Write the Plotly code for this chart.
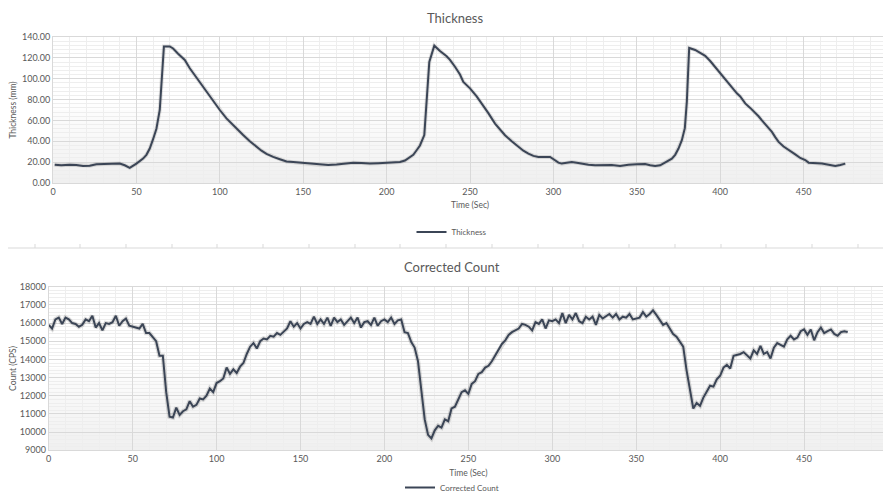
import plotly.graph_objects as go

# ---------------- data ----------------
thick_time = [1, 5, 10, 14, 18, 22, 26, 30, 35, 40, 43, 46, 50, 54, 56, 58, 60, 62, 64, 66.5,
              70, 72, 75, 77, 79, 82, 86, 90, 95, 100, 104, 108, 111, 114, 118, 122, 125, 128,
              132, 136, 140, 144, 150, 155, 160, 165, 170, 175, 180, 185, 190, 195, 200, 205,
              208, 211, 213, 216, 218, 220, 222.6, 224, 225.6, 228.6, 232, 236, 238, 241, 244,
              246, 250, 254, 257, 261, 265, 268, 271, 275, 279, 282, 285, 288, 291, 295, 298,
              301, 303, 305, 308, 311, 314, 317, 321, 325, 330, 335, 340, 345, 350, 355, 358,
              361, 364, 368, 371, 373, 375, 377, 378.8, 380, 381.4, 385, 388, 391, 394, 396,
              399, 402, 405, 408, 410, 412, 415, 418, 420, 423, 425, 428, 431, 433, 435, 438,
              441, 445, 448, 451, 453, 457, 461, 465, 469, 472, 475]
thickness = [17.6, 17.0, 17.6, 17.3, 16.2, 16.5, 18.0, 18.0, 18.0, 18.6, 17.0, 14.6, 18.6, 23.4,
             27.0, 33.0, 42.0, 52.0, 70.0, 131.0, 131.0, 129.0, 124.0, 121.0, 118.0, 110.0,
             101.0, 92.0, 81.0, 70.0, 62.0, 55.4, 50.0, 46.0, 40.0, 34.6, 31.0, 28.0, 25.0,
             22.8, 20.6, 20.2, 19.2, 18.3, 17.6, 17.3, 17.8, 18.8, 19.5, 19.2, 18.6, 19.0, 19.2,
             19.5, 20.2, 21.5, 23.4, 27.0, 31.4, 36.0, 46.0, 84.0, 116.0, 131.7, 126.5, 121.5,
             118.0, 111.5, 104.0, 97.0, 90.7, 83.0, 76.3, 67.0, 57.0, 51.0, 45.8, 40.0, 34.6,
             31.0, 28.2, 26.0, 25.0, 25.0, 25.0, 21.8, 19.5, 18.6, 19.5, 20.2, 19.5, 18.6,
             17.6, 17.0, 17.3, 17.3, 16.3, 17.6, 18.0, 18.3, 17.0, 16.3, 17.0, 20.8, 23.4, 27.0,
             33.0, 41.0, 52.6, 78.0, 129.5, 127.6, 125.0, 122.0, 117.0, 113.0, 107.0, 102.0,
             95.0, 89.0, 86.0, 83.0, 76.3, 72.0, 69.0, 64.0, 60.0, 55.0, 49.0, 44.0, 39.4, 35.0,
             31.4, 27.5, 24.0, 22.0, 19.5, 19.2, 18.6, 17.5, 16.3, 17.3, 18.6]

count_time = list(range(0, 477, 2))
corrected_count = [
    15900, 15700, 16200, 16300, 15950, 16300, 16200, 16000, 15950, 15800,
    15900, 16200, 16100, 16400, 15750, 16000, 15600, 16000, 15950, 16050,
    16400, 15850, 16100, 16250, 15850, 15800, 15750, 15700, 15950, 15450,
    15450, 15200, 15000, 14200, 14200, 12200, 10850, 10800, 11350, 10950,
    11150, 11250, 11700, 11400, 11500, 11850, 11800, 12000, 12400, 12200,
    12700, 12800, 12950, 13550, 13200, 13450, 13250, 13600, 13800, 14300,
    14700, 14900, 14600, 15000, 15150, 15100, 15300, 15250, 15450, 15350,
    15550, 15700, 16100, 15800, 16000, 15700, 15950, 16050, 15950, 16350,
    15950, 16200, 15950, 16300, 15850, 16300, 16050, 16200, 15900, 16100,
    16300, 16000, 16300, 15750, 16050, 16100, 15900, 16300, 15850, 16100,
    16200, 16050, 16300, 15950, 16150, 16200, 15500, 15450, 14950, 14650,
    13900, 12300, 10700, 9850, 9650, 10100, 10350, 10250, 10700, 10600,
    11300, 11400, 11850, 12200, 12300, 12100, 12650, 12800, 13200, 13300,
    13550, 13650, 13900, 14200, 14550, 14850, 15050, 15350, 15500, 15600,
    15700, 15950, 15900, 15800, 15600, 16050, 15950, 16200, 15700, 16150,
    16100, 16200, 16000, 16550, 16000, 16450, 16200, 16550, 16100, 16000,
    16350, 16200, 16350, 15900, 16450, 16250, 16400, 16500, 16300, 16500,
    16200, 16350, 16300, 16500, 16200, 16250, 16300, 16600, 16350, 16500,
    16700, 16450, 16150, 15900, 16000, 15700, 15400, 15250, 14950, 14700,
    13400, 12450, 11300, 11600, 11450, 11900, 12200, 12550, 12500, 12900,
    13100, 13550, 13700, 13500, 14200, 14250, 14300, 14400, 14200, 14050,
    14500, 14300, 14750, 14300, 14400, 14050, 14650, 14900, 14800, 14700,
    15100, 15300, 15100, 15200, 15550, 15650, 15350, 15650, 15050, 15500,
    15750, 15450, 15550, 15650, 15400, 15300, 15500, 15550, 15500]

x_ticks = [0, 50, 100, 150, 200, 250, 300, 350, 400, 450, 500]

# ---------------- styling ----------------
FONT = "Lato, Liberation Sans, sans-serif"
LINE = "#3b4556"
TXT = "#595959"
GRID = "#d9d9d9"
MINOR = "#eeeeee"

# the page body adds an 8px offset; size the figure so it fits the 891x502 window
OX, OY = 8, 8
FW, FH = 891 - OX, 502 - OY

def px_x(p):
    return (p - OX) / FW

def px_y(p):
    return 1 - (p - OY) / FH

top_x = [px_x(53), px_x(887)]
top_y = [px_y(183), px_y(37)]
bot_x = [px_x(48.7), px_x(888)]
bot_y = [px_y(450.3), px_y(286.7)]

fig = go.Figure()

# soft shadows under the lines
fig.add_trace(go.Scatter(x=thick_time, y=thickness, mode="lines", xaxis="x", yaxis="y",
                         line=dict(color="rgba(0,0,0,0.12)", width=4), showlegend=False,
                         hoverinfo="skip"))
fig.add_trace(go.Scatter(x=count_time, y=corrected_count, mode="lines", xaxis="x2", yaxis="y2",
                         line=dict(color="rgba(0,0,0,0.14)", width=4.5), showlegend=False,
                         hoverinfo="skip"))

fig.add_trace(go.Scatter(x=thick_time, y=thickness, mode="lines", name="Thickness",
                         xaxis="x", yaxis="y", line=dict(color=LINE, width=2), legend="legend"))
fig.add_trace(go.Scatter(x=count_time, y=corrected_count, mode="lines", name="Corrected Count",
                         xaxis="x2", yaxis="y2", line=dict(color=LINE, width=2), legend="legend2"))

def xaxis(domain, anchor):
    return dict(domain=domain, anchor=anchor, range=[0, 500], tickvals=x_ticks,
                showgrid=True, gridcolor=GRID, gridwidth=1,
                minor=dict(dtick=10, showgrid=True, gridcolor=MINOR, gridwidth=1, ticks=""),
                showline=True, linecolor=GRID, mirror=True, zeroline=False, ticks="",
                tickfont=dict(family=FONT, size=9, color=TXT), automargin=False,
                title=dict(text="Time (Sec)", font=dict(family=FONT, size=8.5, color=TXT), standoff=6))

def yaxis(domain, anchor, rng, dtick, minor_dtick, fmt, title, standoff):
    return dict(domain=domain, anchor=anchor, range=rng, dtick=dtick, tick0=rng[0],
                tickformat=fmt, showgrid=True, gridcolor=GRID, gridwidth=1,
                minor=dict(dtick=minor_dtick, tick0=rng[0], showgrid=True, gridcolor=MINOR,
                           gridwidth=1, ticks=""),
                showline=True, linecolor=GRID, mirror=True, zeroline=False, ticks="",
                tickfont=dict(family=FONT, size=9, color=TXT), automargin=False,
                title=dict(text=title, font=dict(family=FONT, size=8.5, color=TXT), standoff=standoff))

# gradient background bands (lower part of each plot area)
shapes = []
nb = 12
for ax_x, ax_y in (("x", "y"), ("x2", "y2")):
    for i in range(nb):
        y0 = i * 0.55 / nb
        y1 = (i + 1) * 0.55 / nb
        alpha = 0.06 * (1 - i / nb)
        shapes.append(dict(type="rect", xref=f"{ax_x} domain", yref=f"{ax_y} domain",
                           x0=0, x1=1, y0=y0, y1=y1, line=dict(width=0),
                           fillcolor=f"rgba(0,0,0,{alpha:.4f})", layer="below"))
# separator between the two charts
shapes.append(dict(type="line", xref="paper", yref="paper", x0=0, x1=1,
                   y0=px_y(248), y1=px_y(248), line=dict(color=GRID, width=1)))
for p in [35, 80, 126, 172, 217, 263, 309, 355, 400, 446, 492, 538, 583, 629, 675, 721, 766, 812, 858]:
    shapes.append(dict(type="line", xref="paper", yref="paper", x0=px_x(p), x1=px_x(p),
                       y0=px_y(248), y1=px_y(244), line=dict(color=GRID, width=1)))

fig.update_layout(
    width=FW, height=FH,
    margin=dict(l=0, r=0, t=0, b=0),
    paper_bgcolor="white", plot_bgcolor="white",
    font=dict(family=FONT, color=TXT),
    xaxis=xaxis(top_x, "y"),
    yaxis=yaxis(top_y, "x", [0, 140], 20, 4, ".2f", "Thickness (mm)", 4),
    xaxis2=xaxis(bot_x, "y2"),
    yaxis2=yaxis(bot_y, "x2", [9000, 18000], 1000, 200, "d", "Count (CPS)", 4),
    shapes=shapes,
    annotations=[
        dict(text="Thickness", xref="paper", yref="paper", x=px_x(455), y=px_y(18),
             showarrow=False, font=dict(family=FONT, size=13, color=TXT),
             xanchor="center", yanchor="middle"),
        dict(text="Corrected Count", xref="paper", yref="paper", x=px_x(452), y=px_y(267),
             showarrow=False, font=dict(family=FONT, size=13, color=TXT),
             xanchor="center", yanchor="middle"),
    ],
    legend=dict(x=px_x(452), y=px_y(232), xanchor="center", yanchor="middle",
                orientation="h", font=dict(family=FONT, size=8, color=TXT),
                bgcolor="rgba(0,0,0,0)"),
    legend2=dict(x=px_x(452), y=0, xanchor="center", yanchor="bottom",
                 orientation="h", font=dict(family=FONT, size=8, color=TXT),
                 bgcolor="rgba(0,0,0,0)"),
    showlegend=True,
)

fig.write_html("out.html")
